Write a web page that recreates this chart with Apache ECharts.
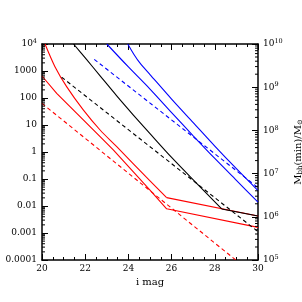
<!DOCTYPE html>
<html><head><meta charset="utf-8">
<script src="https://cdn.jsdelivr.net/npm/echarts@6/dist/echarts.min.js"></script>
<style>html,body{margin:0;padding:0;background:#fff}#c{width:302px;height:302px}</style>
</head><body><div id="c"></div>
<script>
// ---- data ----
const xTickValues = [20, 22, 24, 26, 28, 30];
const leftTickLabels = ['0.0001', '0.001', '0.01', '0.1', '1', '10', '100', '1000', '10^4'];   // 1e-4 .. 1e4
const rightTickExps = [5, 6, 7, 8, 9, 10];                                                    // 10^5 .. 10^10

// red
const redUpperMag = [20.14, 20.6, 21.14, 21.91, 22.69, 23.46, 25.0, 25.77, 30];
const redUpperVal = [1e4, 1445, 263, 36.3, 6.53, 1.57, 0.0851, 0.0204, 0.00427];
const redUpperKink = 7;
const redLowerMag = [20, 20.68, 21.61, 22.69, 23.3, 25.0, 25.77, 30];
const redLowerVal = [653, 148, 26.9, 3.69, 1.19, 0.0389, 0.0079, 0.00162];
const redDashMag = [20, 28.97];
const redDashVal = [63, 1e-4];
// black
const blackMag = [21.46, 22.07, 22.69, 23.46, 24.23, 25.0, 26.0, 27.16, 28.32, 30];
const blackVal = [1e4, 2630, 661, 120, 23.4, 4.79, 0.63, 0.0692, 0.00776, 0.00427];
const blackKink = 8;
const blackDashMag = [20.91, 30];
const blackDashVal = [589, 0.00112];
// blue
const blueUpperMag = [23.97, 24.25, 24.54, 25.0, 26.0, 27.0, 28.0, 29.0, 30.0];
const blueUpperVal = [1e4, 4200, 1950, 741, 91.2, 12.3, 1.66, 0.24, 0.0372];
const blueLowerMag = [23.0, 24.0, 25.0, 26.0, 27.0, 28.0, 29.0, 30.0];
const blueLowerVal = [1e4, 1413, 214, 28.8, 3.98, 0.575, 0.0891, 0.0138];
const blueDashMag = [22.42, 30];
const blueDashVal = [2690, 0.0479];

// ---- helpers ----
const FONT = 'DejaVu Serif';
function pairs(m, v, a, b) {
  const out = [];
  for (let i = (a || 0); i < (b === undefined ? m.length : b); i++) out.push([m[i], v[i]]);
  return out;
}
function line(name, data, color, dashed, smooth) {
  return {
    name, type: 'line', xAxisIndex: 0, yAxisIndex: 0, data, showSymbol: false, symbol: 'none',
    smooth: smooth ? 0.3 : false, clip: true, silent: true,
    lineStyle: { color, width: 1.1, type: dashed ? [4, 3] : 'solid' }
  };
}
function minorTicks(yIdx, dFrom, dTo, xAt, dir) {
  const data = [];
  for (let d = dFrom; d < dTo; d++) for (let k = 2; k <= 9; k++) data.push([xAt, k * Math.pow(10, d)]);
  return {
    type: 'custom', xAxisIndex: 0, yAxisIndex: yIdx, silent: true, clip: false, z: 5,
    data, encode: { x: 0, y: 1 },
    renderItem: function (params, api) {
      const p = api.coord([api.value(0), api.value(1)]);
      return { type: 'line', shape: { x1: p[0], y1: p[1], x2: p[0] + dir * 3, y2: p[1] },
        style: { stroke: '#000', lineWidth: 1 } };
    }
  };
}
const supRich = {
  b: { fontFamily: FONT, fontSize: 9, color: '#000' },
  s: { fontFamily: FONT, fontSize: 6.5, color: '#000', verticalAlign: 'top', padding: [0, 0, 5, 0] }
};
const axisLineStyle = { show: true, onZero: false, lineStyle: { color: '#000', width: 1.5 } };

const chart = echarts.init(document.getElementById('c'), null, { renderer: 'canvas' });
chart.setOption({
  animation: false,
  backgroundColor: '#fff',
  grid: { left: 42, right: 44, top: 44, bottom: 42, containLabel: false, outerBoundsMode: 'none' },
  xAxis: [
    {
      type: 'value', min: 20, max: 30, interval: 2, position: 'bottom',
      name: 'i mag', nameLocation: 'middle', nameGap: 15,
      nameTextStyle: { fontFamily: FONT, fontSize: 10, color: '#000' },
      axisLine: axisLineStyle,
      axisTick: { show: true, inside: true, length: 6, lineStyle: { color: '#000', width: 1 } },
      minorTick: { show: true, splitNumber: 4, length: 3, lineStyle: { color: '#000', width: 1 } },
      splitLine: { show: false },
      axisLabel: { fontFamily: FONT, fontSize: 9, color: '#000', margin: 4,
        formatter: v => (xTickValues.indexOf(v) >= 0 ? String(v) : '') }
    },
    {
      type: 'value', min: 20, max: 30, interval: 2, position: 'top',
      axisLine: axisLineStyle,
      axisTick: { show: true, inside: true, length: 6, lineStyle: { color: '#000', width: 1 } },
      minorTick: { show: true, splitNumber: 4, length: 3, lineStyle: { color: '#000', width: 1 } },
      splitLine: { show: false }, axisLabel: { show: false }
    }
  ],
  yAxis: [
    {
      type: 'log', logBase: 10, min: 1e-4, max: 1e4, splitNumber: 8, position: 'left',
      name: 'ΔΩ(min)/deg²', nameLocation: 'middle', nameRotate: 90, nameGap: 29,
      nameTextStyle: { fontFamily: FONT, fontSize: 10, color: '#000' },
      axisLine: axisLineStyle,
      axisTick: { show: true, inside: true, length: 6, lineStyle: { color: '#000', width: 1 } },
      splitLine: { show: false },
      axisLabel: {
        margin: 5, fontFamily: FONT, fontSize: 9, color: '#000', rich: supRich,
        formatter: function (v) {
          const e = Math.round(Math.log10(v));
          const t = leftTickLabels[e + 4];
          if (!t) return '';
          if (t.indexOf('^') >= 0) { const p = t.split('^'); return '{b|' + p[0] + '}{s|' + p[1] + '}'; }
          return '{b|' + t + '}';
        }
      }
    },
    {
      type: 'log', logBase: 10, min: 1e5, max: 1e10, splitNumber: 5, position: 'right',
      name: '{a|M}{d|bh}{a|(min)/M}{d|⊙}', nameLocation: 'middle', nameRotate: 90, nameGap: 28,
      nameTextStyle: { fontFamily: FONT, fontSize: 10, color: '#000',
        rich: { a: { fontFamily: FONT, fontSize: 10, color: '#000' },
                d: { fontFamily: FONT, fontSize: 7, color: '#000', verticalAlign: 'bottom', padding: [4, 0, 0, 0] } } },
      axisLine: axisLineStyle,
      axisTick: { show: true, inside: true, length: 6, lineStyle: { color: '#000', width: 1 } },
      splitLine: { show: false },
      axisLabel: {
        margin: 5, fontFamily: FONT, fontSize: 9, color: '#000', rich: supRich,
        formatter: function (v) {
          const e = Math.round(Math.log10(v));
          if (rightTickExps.indexOf(e) < 0) return '';
          return '{b|10}{s|' + e + '}';
        }
      }
    }
  ],
  series: [
    line('redDash', pairs(redDashMag, redDashVal), '#ff0000', true, false),
    line('redLower', pairs(redLowerMag, redLowerVal), '#ff0000', false, false),
    line('redUpper', pairs(redUpperMag, redUpperVal, 0, redUpperKink + 1), '#ff0000', false, true),
    line('redUpperTail', pairs(redUpperMag, redUpperVal, redUpperKink), '#ff0000', false, false),
    line('blackDash', pairs(blackDashMag, blackDashVal), '#000000', true, false),
    line('black', pairs(blackMag, blackVal, 0, blackKink + 1), '#000000', false, true),
    line('blackTail', pairs(blackMag, blackVal, blackKink), '#000000', false, false),
    line('blueDash', pairs(blueDashMag, blueDashVal), '#0000ff', true, false),
    line('blueLower', pairs(blueLowerMag, blueLowerVal), '#0000ff', false, true),
    line('blueUpper', pairs(blueUpperMag, blueUpperVal), '#0000ff', false, true),
    minorTicks(0, -4, 4, 20, 1),
    minorTicks(1, 5, 10, 30, -1)
  ]
});
</script>
</body></html>
